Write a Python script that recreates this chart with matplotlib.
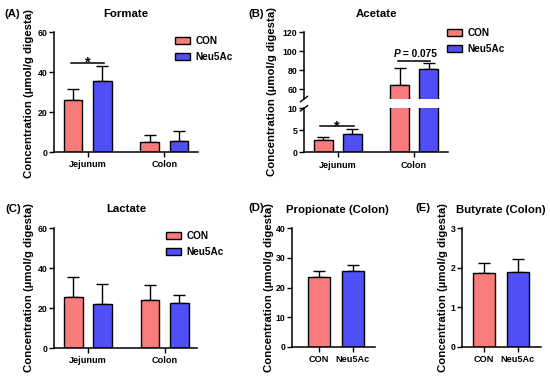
import matplotlib
matplotlib.use("Agg")
import matplotlib.pyplot as plt
from matplotlib.patches import Patch
import numpy as np

plt.rcParams['font.family'] = ['Liberation Sans', 'DejaVu Sans']
plt.rcParams['font.weight'] = 'bold'
plt.rcParams['axes.labelweight'] = 'bold'

# ---------------- data ----------------
groups = ["CON", "Neu5Ac"]
sites = ["Jejunum", "Colon"]

formate_mean = {"CON": [26.0, 5.0], "Neu5Ac": [35.6, 5.5]}
formate_sd = {"CON": [5.5, 3.3], "Neu5Ac": [7.6, 5.0]}

acetate_mean = {"CON": [2.8, 64.6], "Neu5Ac": [4.1, 81.1]}
acetate_sd = {"CON": [0.6, 18.2], "Neu5Ac": [1.3, 6.3]}

lactate_mean = {"CON": [25.3, 23.8], "Neu5Ac": [22.2, 22.3]}
lactate_sd = {"CON": [10.0, 7.9], "Neu5Ac": [10.0, 4.4]}

propionate_mean = [23.4, 25.4]
propionate_sd = [2.0, 2.1]

butyrate_mean = [1.87, 1.88]
butyrate_sd = [0.25, 0.33]

# significance annotations (height, label)
formate_sig = (44.5, "*")
acetate_jej_sig = (5.9, "*")
acetate_col_sig = (89.8, " = 0.075")

colors = {"CON": "#F87C7C", "Neu5Ac": "#4F4FF5"}

W, H = 550, 377
fig = plt.figure(figsize=(W / 100, H / 100), dpi=100)


def ax_px(l, t, r, b):
    return fig.add_axes([l / W, 1 - b / H, (r - l) / W, (b - t) / H])


def fx(x):
    return x / W


def fy(y):
    return 1 - y / H


YL = "Concentration (µmol/g digesta)"
TICK_FS = 6.3
XT_FS = 6.6
TITLE_FS = 8.2
LAB_FS = 8.2
LEG_FS = 7.2
BAR_LW = 1.0


def style(ax):
    for s in ["top", "right"]:
        ax.spines[s].set_visible(False)
    ax.spines["left"].set_linewidth(1.1)
    ax.spines["bottom"].set_linewidth(1.1)
    ax.tick_params(axis="both", direction="out", length=3.5, width=1.0,
                   labelsize=TICK_FS, pad=1.2)
    ax.tick_params(axis="x", labelsize=XT_FS, pad=2.5)


def grouped(ax, means, sds, width=0.244, off=0.19):
    x = np.arange(len(sites))
    for i, g in enumerate(groups):
        xs = x + (-off if i == 0 else off)
        ax.bar(xs, means[g], width=width, color=colors[g], edgecolor="black",
               linewidth=BAR_LW, zorder=2)
        ax.errorbar(xs, means[g], yerr=[np.zeros(len(sds[g])), sds[g]],
                    fmt="none", ecolor="black", elinewidth=1.0, capsize=4,
                    capthick=1.0, zorder=1)
    ax.set_xticks(x)
    ax.set_xticklabels(sites, fontweight="bold")


def legend_at(ax, x, y):
    handles = [Patch(facecolor=colors[g], edgecolor="black", linewidth=1.0)
               for g in groups]
    ax.legend(handles, groups, loc="upper left",
              bbox_to_anchor=(fx(x), fy(y)), bbox_transform=fig.transFigure,
              frameon=False, handlelength=1.5,
              handleheight=0.6, handletextpad=0.55, labelspacing=0.6,
              borderpad=0, borderaxespad=0,
              prop={"weight": "bold", "size": LEG_FS})


def sig(ax, x0, x1, h, label, fs=10.5, italic_p=False):
    ax.plot([x0, x1], [h, h], color="black", lw=1.1, clip_on=False)
    xc = (x0 + x1) / 2
    if italic_p:
        ax.annotate("P", xy=(xc, h), xytext=(-10.0, 1.5),
                    textcoords="offset points", ha="right", va="bottom",
                    fontsize=7.3, fontweight="bold", fontstyle="italic",
                    annotation_clip=False)
        ax.annotate(label, xy=(xc, h), xytext=(-10.0, 1.5),
                    textcoords="offset points", ha="left", va="bottom",
                    fontsize=7.3, fontweight="bold", annotation_clip=False)
    else:
        ax.annotate(label, xy=(xc, h), xytext=(0, -4.8),
                    textcoords="offset points", ha="center", va="bottom",
                    fontsize=fs, fontweight="bold", annotation_clip=False)


def ylabel(x, y):
    fig.text(fx(x), fy(y), YL, rotation=90, ha="center", va="center",
             fontsize=LAB_FS, fontweight="bold")


def title(x, y, s):
    fig.text(fx(x), fy(y), s, ha="center", va="center",
             fontsize=TITLE_FS, fontweight="bold")


def letter(x, y, s):
    fig.text(fx(x), fy(y), s, ha="center", va="center",
             fontsize=8.2, fontweight="bold")


# ---------------- (A) Formate ----------------
axA = ax_px(54, 32, 198, 152)
style(axA)
grouped(axA, formate_mean, formate_sd)
axA.set_xlim(-0.44, 1.44)
axA.set_ylim(0, 60)
axA.set_yticks([0, 20, 40, 60])
sig(axA, -0.22, 0.21, formate_sig[0], formate_sig[1])
legend_at(axA, 175, 36)
ylabel(29, 94)
title(126, 14, "Formate")
letter(12, 14, "(A)")

# ---------------- (B) Acetate (broken axis) ----------------
axBt = ax_px(304, 32.3, 448, 99)
axBb = ax_px(304, 108.3, 448, 152.3)
for a in (axBt, axBb):
    style(a)
    grouped(a, acetate_mean, acetate_sd)
    a.set_xlim(-0.445, 1.445)
axBt.set_ylim(50, 120)
axBt.set_yticks([60, 80, 100, 120])
axBt.spines["bottom"].set_visible(False)
axBt.tick_params(axis="x", bottom=False, labelbottom=False)
axBb.set_ylim(0, 10)
axBb.set_yticks([0, 5, 10])
sig(axBb, -0.24, 0.21, acetate_jej_sig[0], acetate_jej_sig[1])
sig(axBt, 0.79, 1.21, acetate_col_sig[0], acetate_col_sig[1], italic_p=True)
# break marks on the left spine
axBt.plot([-0.025, 0.025], [-0.04, 0.04], transform=axBt.transAxes,
          color="black", lw=1.0, clip_on=False)
axBb.plot([-0.025, 0.025], [0.94, 1.06], transform=axBb.transAxes,
          color="black", lw=1.0, clip_on=False)
legend_at(axBt, 447, 28)
ylabel(272, 92)
title(376, 14, "Acetate")
letter(256, 14, "(B)")

# ---------------- (C) Lactate ----------------
axC = ax_px(54, 228, 197, 348)
style(axC)
grouped(axC, lactate_mean, lactate_sd)
axC.set_xlim(-0.44, 1.42)
axC.set_ylim(0, 60)
axC.set_yticks([0, 20, 40, 60])
legend_at(axC, 166, 231)
ylabel(29, 288)
title(126, 209, "Lactate")
letter(13, 209, "(C)")


# ---------------- (D) Propionate ----------------
def single(ax, means, sds):
    x = np.arange(len(groups))
    ax.bar(x, means, width=0.65, color=[colors[g] for g in groups],
           edgecolor="black", linewidth=BAR_LW, zorder=2)
    ax.errorbar(x, means, yerr=[np.zeros(len(sds)), sds], fmt="none",
                ecolor="black", elinewidth=1.0, capsize=4, capthick=1.0,
                zorder=1)
    ax.set_xticks(x)
    ax.set_xticklabels(groups, fontweight="bold")


axD = ax_px(292, 228, 375, 347)
style(axD)
single(axD, propionate_mean, propionate_sd)
axD.set_xlim(-0.8, 1.65)
axD.set_ylim(0, 40)
axD.set_yticks([0, 10, 20, 30, 40])
ylabel(268.5, 287)
title(337, 210, "Propionate (Colon)")
letter(256, 208, "(D)")

# ---------------- (E) Butyrate ----------------
axE = ax_px(462, 228, 541, 347)
style(axE)
single(axE, butyrate_mean, butyrate_sd)
axE.set_xlim(-0.65, 1.68)
axE.set_ylim(0, 3)
axE.set_yticks([0, 1, 2, 3])
ylabel(443, 287)
title(501, 210, "Butyrate (Colon)")
letter(423, 208, "(E)")

fig.savefig("out.png", dpi=100)
